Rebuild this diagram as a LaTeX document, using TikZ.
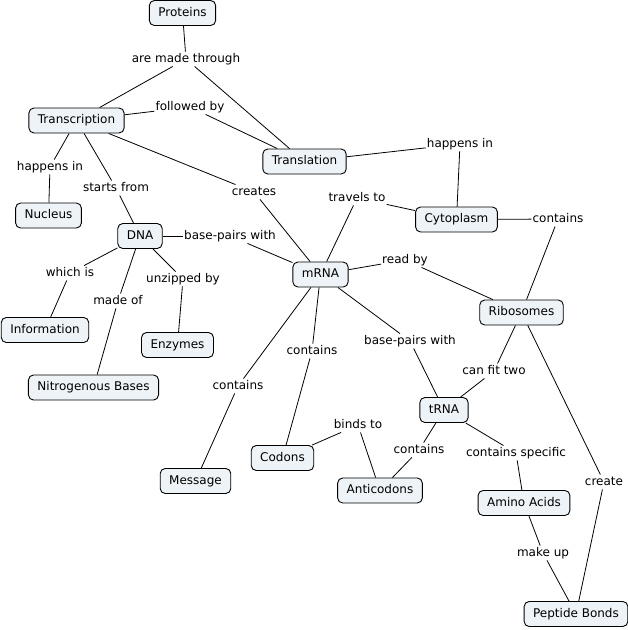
\documentclass[tikz,border=0pt]{standalone}
\usepackage{fontspec}
\setmainfont{DejaVu Sans}
\tikzset{
  concept/.style={draw, line width=0.9pt, rounded corners=5pt, fill=cfill,
    inner xsep=9pt, minimum height=25pt, text height=9pt, text depth=2.5pt},
  phrase/.style={inner xsep=1pt, inner ysep=1.5pt, text height=9pt, text depth=2.5pt},
  link/.style={line width=0.8pt}
}
\definecolor{cfill}{RGB}{237,243,246}
\begin{document}
\begin{tikzpicture}[x=1pt,y=-1pt,font=\fontsize{12}{14}\selectfont]
\useasboundingbox (0,0) rectangle (628,630);
\node[concept] (prot) at (182.5,13) {Proteins};
\node[concept] (trsc) at (76.5,120.5) {Transcription};
\node[concept] (trsl) at (304.5,161.5) {Translation};
\node[concept] (nucl) at (48.5,215.5) {Nucleus};
\node[concept] (dna) at (140,236) {DNA};
\node[concept] (mrna) at (320.5,274.5) {mRNA};
\node[concept] (cyto) at (456.5,219.5) {Cytoplasm};
\node[concept] (ribo) at (521.5,312.5) {Ribosomes};
\node[concept] (info) at (45,330) {Information};
\node[concept] (enzy) at (177.5,345) {Enzymes};
\node[concept] (nitb) at (93.5,387.5) {Nitrogenous Bases};
\node[concept] (mesg) at (195.5,481) {Message};
\node[concept] (codn) at (282.5,458) {Codons};
\node[concept] (trna) at (444,410) {tRNA};
\node[concept] (acod) at (380,490.5) {Anticodons};
\node[concept] (amac) at (524,503) {Amino Acids};
\node[concept] (pept) at (576,614) {Peptide Bonds};

\node[phrase] (madethr) at (186,59) {are made through};
\node[phrase] (follby) at (190,107) {followed by};
\node[phrase] (hapin) at (50,167) {happens in};
\node[phrase] (startfr) at (116,188) {starts from};
\node[phrase] (creat) at (254,192) {creates};
\node[phrase] (hapin2) at (460,144) {happens in};
\node[phrase] (travto) at (357,198) {travels to};
\node[phrase] (cont1) at (558,219) {contains};
\node[phrase] (readby) at (405,260) {read by};
\node[phrase] (bpair1) at (230,236) {base-pairs with};
\node[phrase] (whichis) at (70,273) {which is};
\node[phrase] (madeof) at (118,301) {made of};
\node[phrase] (unzip) at (183,279) {unzipped by};
\node[phrase] (cont2) at (238,386) {contains};
\node[phrase] (cont3) at (312,351) {contains};
\node[phrase] (bpair2) at (410,341) {base-pairs with};
\node[phrase] (fittwo) at (494,371) {can fit two};
\node[phrase] (bindto) at (358,425) {binds to};
\node[phrase] (cont4) at (419,450) {contains};
\node[phrase] (contsp) at (516,453) {contains specific};
\node[phrase] (creat2) at (604,482) {create};
\node[phrase] (makeup) at (543,553) {make up};

\draw[link] (prot) -- (madethr);
\draw[link] (madethr) -- (trsc);
\draw[link] (madethr) -- (trsl);
\draw[link] (trsc) -- (follby);
\draw[link] (follby) -- (trsl);
\draw[link] (trsc) -- (hapin);
\draw[link] (hapin) -- (nucl);
\draw[link] (trsc) -- (startfr);
\draw[link] (startfr) -- (dna);
\draw[link] (trsc) -- (creat);
\draw[link] (creat) -- (mrna);
\draw[link] (trsl) -- (hapin2);
\draw[link] (hapin2) -- (cyto);
\draw[link] (mrna) -- (travto);
\draw[link] (travto) -- (cyto);
\draw[link] (cyto) -- (cont1);
\draw[link] (cont1) -- (ribo);
\draw[link] (mrna) -- (readby);
\draw[link] (readby) -- (ribo);
\draw[link] (dna) -- (bpair1);
\draw[link] (bpair1) -- (mrna);
\draw[link] (dna) -- (whichis);
\draw[link] (whichis) -- (info);
\draw[link] (dna) -- (madeof);
\draw[link] (madeof) -- (nitb);
\draw[link] (dna) -- (unzip);
\draw[link] (unzip) -- (enzy);
\draw[link] (mrna) -- (cont2);
\draw[link] (cont2) -- (mesg);
\draw[link] (mrna) -- (cont3);
\draw[link] (cont3) -- (codn);
\draw[link] (mrna) -- (bpair2);
\draw[link] (bpair2) -- (trna);
\draw[link] (ribo) -- (fittwo);
\draw[link] (fittwo) -- (trna);
\draw[link] (ribo) -- (creat2);
\draw[link] (creat2) -- (pept);
\draw[link] (codn) -- (bindto);
\draw[link] (bindto) -- (acod);
\draw[link] (trna) -- (cont4);
\draw[link] (cont4) -- (acod);
\draw[link] (trna) -- (contsp);
\draw[link] (contsp) -- (amac);
\draw[link] (amac) -- (makeup);
\draw[link] (makeup) -- (pept);
\end{tikzpicture}
\end{document}
